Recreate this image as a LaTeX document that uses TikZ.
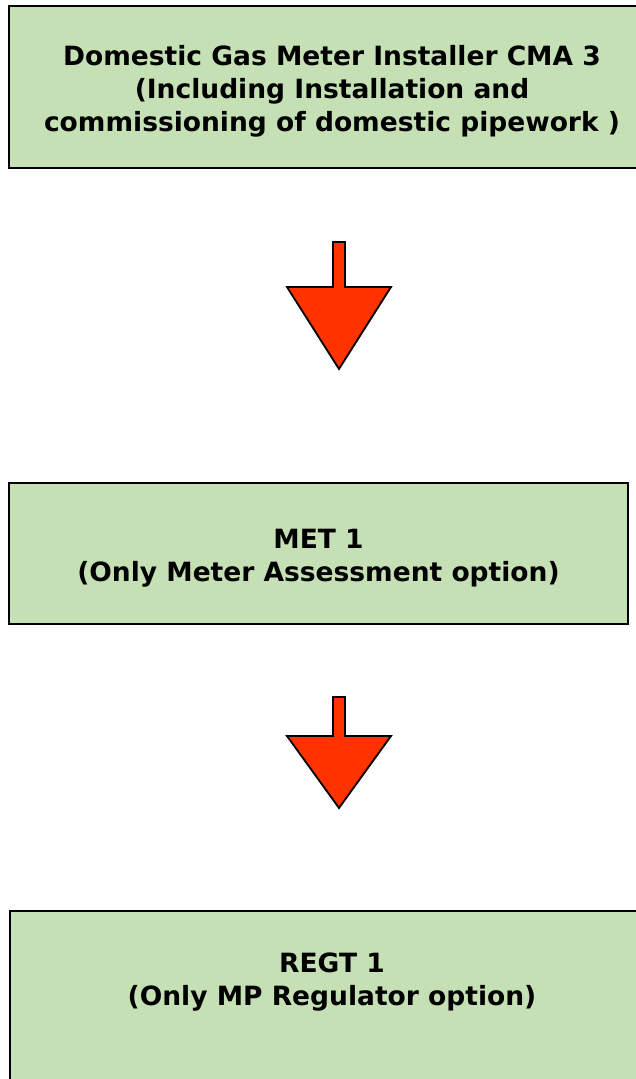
\documentclass[tikz,border=0pt]{standalone}
\usepackage{fontspec}
\setmainfont{DejaVu Sans}
\usepackage{tikz}
\usepackage{xcolor}

\begin{document}
\begin{tikzpicture}[x=1pt,y=-1pt,
  stagebox/.style={rectangle,draw=black,line width=2.2pt,fill=sage,align=center,
    font=\bfseries\fontsize{26.5}{33}\selectfont,inner sep=0pt},
  stagetext/.style={align=center,font=\bfseries\fontsize{26.5}{33}\selectfont},
  downarrow/.style={fill=flame,draw=black,line width=1.8pt,line join=miter}]
\definecolor{sage}{HTML}{C5E0B4}
\definecolor{flame}{HTML}{FF3300}
\useasboundingbox (0,0) rectangle (636,1079);
\node [stagebox,minimum width=646,minimum height=162] (cma) at (332,87)
  {\rule{0pt}{29pt}Domestic Gas Meter Installer CMA 3\\(Including Installation and\\commissioning of domestic pipework )};
\node [stagebox,minimum width=619,minimum height=141] (met) at (318.5,553.5)
  {\rule{0pt}{29pt}MET 1\\(Only Meter Assessment option)};
\node [stagebox,minimum width=650,minimum height=200,anchor=north] (regt) at (335,910) {};
\node [stagetext] (regtlabel) at (332,982.5) {REGT 1\\(Only MP Regulator option)};
  \foreach \top/\head/\tip in {242/287/369,697/736/808}
  {  \draw [downarrow] (333,\top) -- (345,\top) -- (345,\head) -- (391,\head)
       -- (339,\tip) -- (287,\head) -- (333,\head) -- cycle;}
\end{tikzpicture}
\end{document}
